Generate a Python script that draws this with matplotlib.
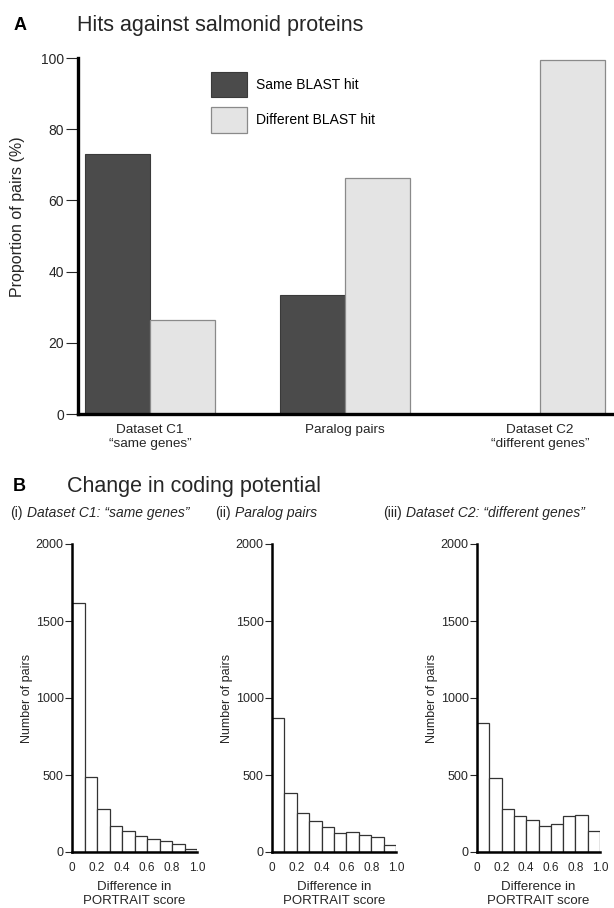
import numpy as np
import matplotlib.pyplot as plt

plt.rcParams['font.family'] = ['Liberation Sans', 'DejaVu Sans']

# Panel A data
groups = ['Dataset C1\n\u201csame genes\u201d', 'Paralog pairs', 'Dataset C2\n\u201cdifferent genes\u201d']
same_hit = [73.0, 33.4, 0.0]
diff_hit = [26.4, 66.3, 99.4]

# Panel B data (counts per 0.1 bin of PORTRAIT score difference)
bin_edges = [0.0, 0.1, 0.2, 0.3, 0.4, 0.5, 0.6, 0.7, 0.8, 0.9]
counts_c1 = [1614, 488, 282, 167, 136, 106, 87, 69, 54, 22]
counts_paralog = [870, 385, 252, 200, 163, 126, 133, 113, 96, 43]
counts_c2 = [839, 481, 282, 232, 206, 167, 184, 232, 238, 139]
hist_titles = [('(i)', 'Dataset C1: \u201csame genes\u201d'),
               ('(ii)', 'Paralog pairs'),
               ('(iii)', 'Dataset C2: \u201cdifferent genes\u201d')]

W, H = 614, 908
fig = plt.figure(figsize=(W / 100, H / 100), dpi=100)

dark = '#4b4b4b'
light = '#e4e4e4'
txt = '#262626'

# ---- Panel A ----
axA = fig.add_axes([78 / W, (H - 414) / H, (W - 78) / W, 356 / H])
x = np.arange(len(groups))
w = 1 / 3
axA.bar(x - w / 2, same_hit, w, color=dark, edgecolor='#3a3a3a', linewidth=0.8,
        label='Same BLAST hit')
axA.bar(x + w / 2, diff_hit, w, color=light, edgecolor='#8a8a8a', linewidth=0.9,
        label='Different BLAST hit')
axA.set_xlim(-0.369, 2.38)
axA.set_ylim(0, 100)
axA.set_yticks([0, 20, 40, 60, 80, 100])
axA.set_xticks(x)
axA.set_xticklabels(groups, fontsize=9.7, color=txt, linespacing=1.28)
axA.tick_params(axis='x', length=0, pad=7)
axA.tick_params(axis='y', length=9, width=0.8, labelsize=10, pad=1, colors=txt)
for s in ['top', 'right']:
    axA.spines[s].set_visible(False)
axA.spines['left'].set_linewidth(2.4)
axA.spines['bottom'].set_linewidth(2.4)
fig.text(17.5 / W, 1 - 217 / H, 'Proportion of pairs (%)', fontsize=11.5, rotation=90,
         ha='center', va='center', color=txt)
axA.legend(loc='upper left', bbox_to_anchor=(211 / W, 1 - 72 / H), bbox_transform=fig.transFigure,
           frameon=False, fontsize=10, handlelength=2.6, handleheight=2.4,
           labelspacing=0.75, handletextpad=0.65, borderaxespad=0, borderpad=0)

fig.text(14 / W, 1 - 25 / H, 'A', fontsize=13, fontweight='bold', va='center')
fig.text(77 / W, 1 - 25 / H, 'Hits against salmonid proteins', fontsize=15.5, va='center',
         color=txt)

# ---- Panel B ----
fig.text(13 / W, 1 - 486 / H, 'B', fontsize=13, fontweight='bold', va='center')
fig.text(67 / W, 1 - 486 / H, 'Change in coding potential', fontsize=15.5, va='center',
         color=txt)

lefts = [72, 272, 477]
widths = [125, 124, 123]
sub_x = [10, 215, 383]
for i, counts in enumerate([counts_c1, counts_paralog, counts_c2]):
    ax = fig.add_axes([lefts[i] / W, (H - 852) / H, widths[i] / W, 308 / H])
    ax.bar(bin_edges, counts, width=0.1, align='edge', color='white',
           edgecolor='#333333', linewidth=0.9)
    ax.set_xlim(0, 1.0)
    ax.set_ylim(0, 2000)
    ax.set_yticks([0, 500, 1000, 1500, 2000])
    ax.set_xticks([0, 0.2, 0.4, 0.6, 0.8, 1.0])
    ax.set_xticklabels(['0', '0.2', '0.4', '0.6', '0.8', '1.0'])
    ax.tick_params(axis='x', length=0, pad=7, labelsize=8.5, colors=txt)
    ax.tick_params(axis='y', length=5, width=0.8, labelsize=9, pad=1, colors=txt)
    for s in ['top', 'right']:
        ax.spines[s].set_visible(False)
    ax.spines['left'].set_linewidth(1.8)
    ax.spines['bottom'].set_linewidth(1.8)
    ax.set_ylabel('Number of pairs', fontsize=9, labelpad=2, color=txt)
    ax.set_xlabel('Difference in\nPORTRAIT score', fontsize=9.5, labelpad=5,
                  color=txt, linespacing=1.25)
    t1 = fig.text(sub_x[i] / W, 1 - 513 / H, hist_titles[i][0], fontsize=10,
                  va='center', color=txt)
    ax.annotate(hist_titles[i][1], xy=(1, 0.5), xycoords=t1, xytext=(3, 0),
                textcoords='offset points', va='center', ha='left', fontsize=10,
                style='italic', color=txt, annotation_clip=False)

fig.savefig('out.png', dpi=100)
